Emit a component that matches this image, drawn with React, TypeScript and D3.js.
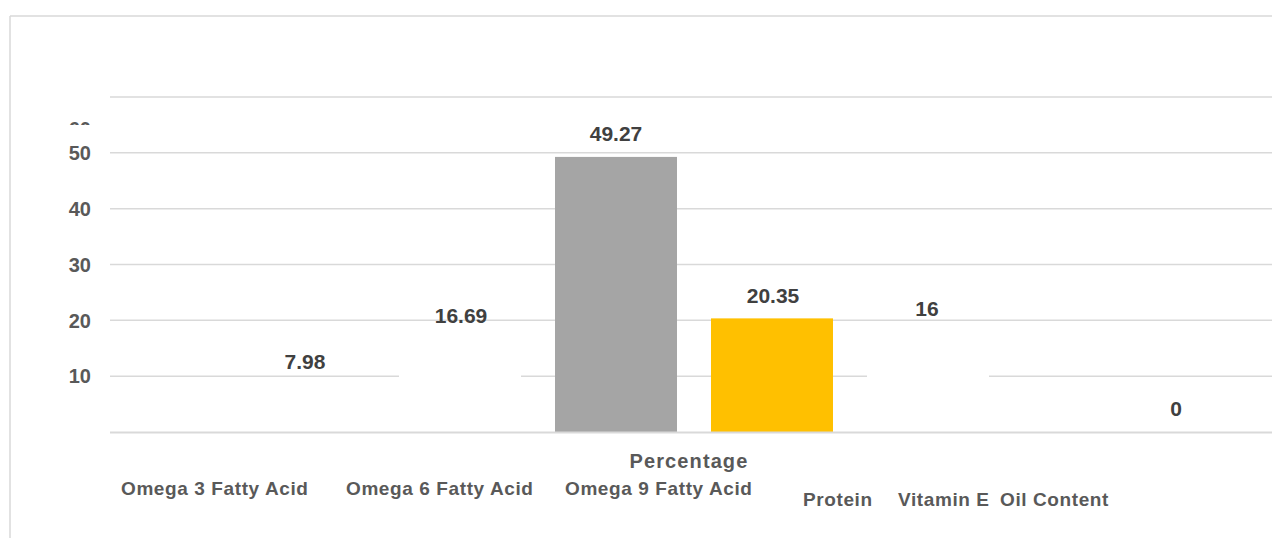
import React from "react";
import * as d3 from "d3";

const category = "Percentage";
const series = [
  "Omega 3 Fatty Acid",
  "Omega 6 Fatty Acid",
  "Omega 9 Fatty Acid",
  "Protein",
  "Vitamin E",
  "Oil Content",
];
const values = [7.98, 16.69, 49.27, 20.35, 16, 0];
const yTicks = [10, 20, 30, 40, 50, 60];
const colors = ["#ffffff", "#ffffff", "#a5a5a5", "#ffc000", "#ffffff", "#ffffff"];

const WIDTH = 1272;
const HEIGHT = 538;
const FONT = "'Liberation Sans', Arial, sans-serif";
const GRID = "#d9d9d9";

const App = () => {
  const y = d3.scaleLinear().domain([0, 60]).range([432, 97]);
  const x0 = d3
    .scaleBand()
    .domain([category])
    .range([110, 1278])
    .paddingInner(0)
    .paddingOuter(0.1475);
  const x1 = d3
    .scaleBand()
    .domain(series)
    .range([0, x0.bandwidth()])
    .paddingInner(0.218)
    .paddingOuter(0);

  const base = x0(category)!;
  // label nudges, the original labels sit a bit off
  const labelDx = [1, 1, 0, 1, -1, 92];
  const labelDy = [-18, -16, -16, -15, -27, -16];
  const legendX = [121, 346, 565, 803, 898, 1000];
  const legendY = [495, 495, 495, 506, 506, 506];

  return (
    <div style={{ position: "fixed", left: 0, top: 0 }}>
      <svg width={WIDTH} height={HEIGHT} style={{ display: "block", background: "#fff" }}>
        <defs>
          <clipPath id="clip60">
            <rect x={0} y={0} width={110} height={125} />
          </clipPath>
        </defs>
        <line x1={10} x2={WIDTH} y1={16} y2={16} stroke={GRID} strokeWidth={1.5} />
        <line x1={10} x2={10} y1={16} y2={HEIGHT} stroke={GRID} strokeWidth={1.5} />

        {yTicks.map((t) => (
          <line key={t} x1={110} x2={WIDTH} y1={y(t)} y2={y(t)} stroke={GRID} strokeWidth={1.5} />
        ))}

        {yTicks.map((t) =>
          t === 60 ? (
            <g key={t} clipPath="url(#clip60)">
              <text
                x={91}
                y={136}
                textAnchor="end"
                fontFamily={FONT}
                fontWeight="bold"
                fontSize={20}
                fill="#595959"
              >
                {t}
              </text>
            </g>
          ) : (
            <text
              key={t}
              x={91}
              y={y(t)}
              dy="0.36em"
              textAnchor="end"
              fontFamily={FONT}
              fontWeight="bold"
              fontSize={20}
              fill="#595959"
            >
              {t}
            </text>
          )
        )}

        {series.map((s, i) => (
          <rect
            key={s}
            x={base + x1(s)!}
            y={y(values[i])}
            width={x1.bandwidth()}
            height={y(0) - y(values[i])}
            fill={colors[i]}
          />
        ))}

        <line x1={110} x2={WIDTH} y1={y(0) + 0.5} y2={y(0) + 0.5} stroke={GRID} strokeWidth={2} />

        {series.map((s, i) => (
          <text
            key={s}
            x={base + x1(s)! + x1.bandwidth() / 2 + labelDx[i]}
            y={y(values[i]) + labelDy[i]}
            textAnchor="middle"
            fontFamily={FONT}
            fontWeight="bold"
            fontSize={21}
            fill="#404040"
          >
            {values[i]}
          </text>
        ))}

        <text
          x={base + x0.bandwidth() / 2 - 5}
          y={468}
          textAnchor="middle"
          fontFamily={FONT}
          fontWeight="bold"
          fontSize={20}
          letterSpacing={1.1}
          fill="#595959"
        >
          {category}
        </text>

        {series.map((s, i) => (
          <text
            key={s}
            x={legendX[i]}
            y={legendY[i]}
            fontFamily={FONT}
            fontWeight="bold"
            fontSize={19}
            letterSpacing={0.6}
            fill="#595959"
          >
            {s}
          </text>
        ))}
      </svg>
    </div>
  );
};

export default App;
